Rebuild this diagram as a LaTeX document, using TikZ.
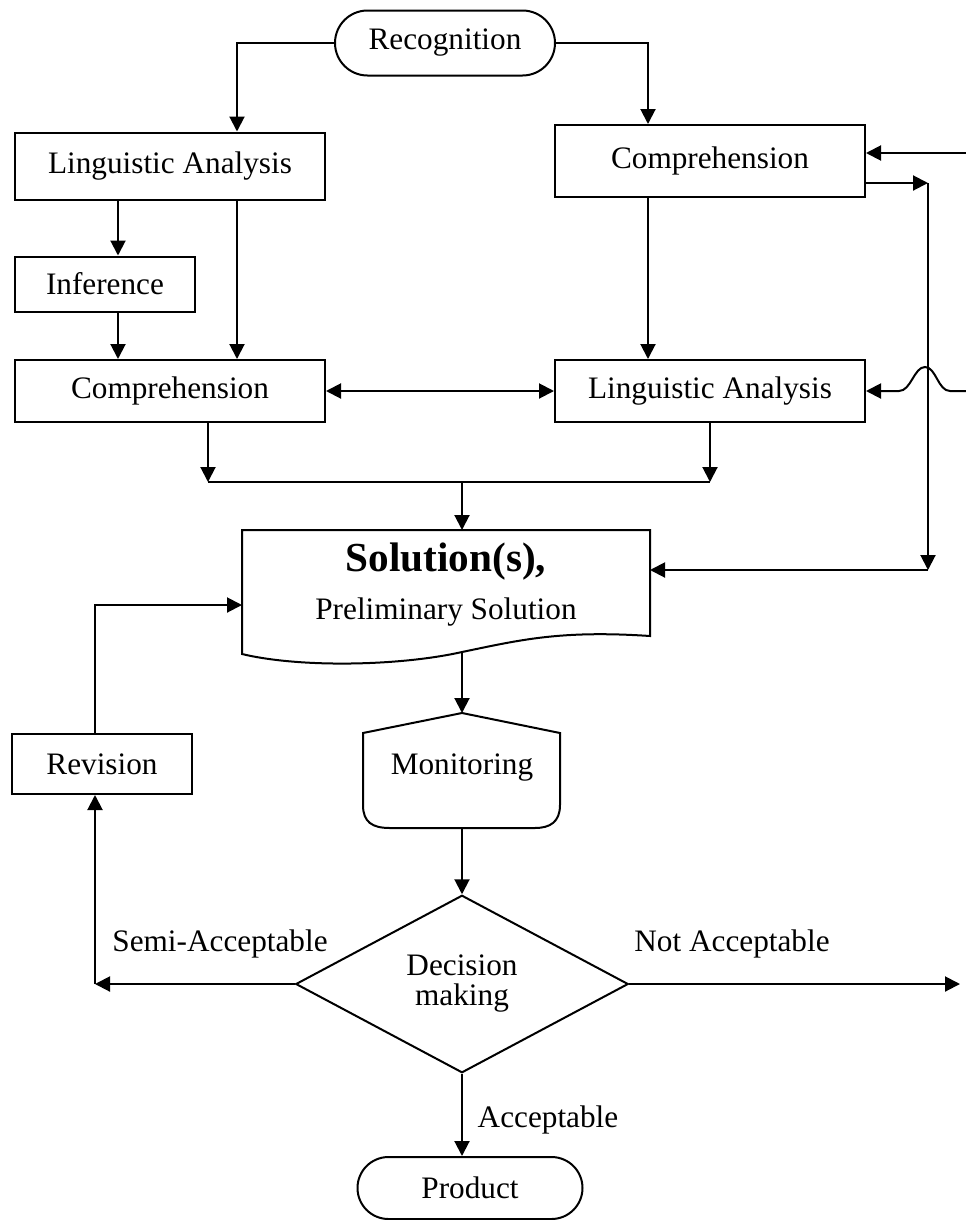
\documentclass[tikz,border=0pt]{standalone}
\usepackage{fontspec}
\setmainfont{Liberation Serif}
\usetikzlibrary{shapes.geometric,shapes.misc,arrows.meta}

\begin{document}
\begin{tikzpicture}[x=0.4pt,y=-0.4pt,line width=0.8pt,
    font=\fontsize{12.5}{15}\selectfont,
    box/.style={draw,rectangle,minimum width=124pt,inner sep=2pt},
    term/.style={draw,rounded rectangle,inner sep=2pt},
    decide/.style={draw,diamond,align=center,inner sep=0pt,minimum width=133pt,minimum height=71pt},
    arr/.style={-{Triangle[length=6pt,width=6pt]}},
    arrb/.style={{Triangle[length=6pt,width=6pt]}-{Triangle[length=6pt,width=6pt]}}]
  \useasboundingbox[fill=white] (0,0) rectangle (966,1220);
  % upper part
  \node[term,minimum width=92pt,minimum height=26pt](rec) at (445,43) {Recognition};
  \node[box,minimum height=26.8pt](la1) at (170,166) {Linguistic Analysis};
  \node[box,minimum height=28.8pt](cr) at (710,161) {Comprehension};
  \node[box,minimum width=72pt,minimum height=22pt](inf) at (105,284) {Inference};
  \node[box,minimum height=24.8pt](cl) at (170,391) {Comprehension};
  \node[box,minimum height=24.8pt](la2) at (710,391) {Linguistic Analysis};
  \draw[arr] (rec.west) -| (237,0 |- la1.north);
  \draw[arr] (rec.east) -| (648,0 |- cr.north);
  \draw[arr] (118,0 |- la1.south) -- (118,0 |- inf.north);
  \draw[arr] (237,0 |- la1.south) -- (237,0 |- cl.north);
  \draw[arr] (118,0 |- inf.south) -- (118,0 |- cl.north);
  \draw[arr] (648,0 |- cr.south) -- (648,0 |- la2.north);
  \draw[arrb] (cl) -- (la2);
  \coordinate (jl) at (208,482);
  \coordinate (jr) at (710,482);
  \coordinate (jm) at (462,482);
  \draw[arr] (jl |- cl.south) -- (jl);
  \draw[arr] (jr |- la2.south) -- (jr);
  \draw (jl) -- (jr);
  % solution
  \draw (242,530) -- (650,530) -- (650,636) .. controls (560,630) and (520,640) .. (462,652)
    .. controls (400,666) and (300,668) .. (242,654) -- cycle;
  \node(sol) at (446,562) {\fontsize{16.5}{19}\selectfont\bfseries Solution(s),};
  \node(pre) at (446,612) {Preliminary Solution};
  \coordinate (soltop) at (462,530);
  \coordinate (solbot) at (462,652);
  \coordinate (solleft) at (242,605);
  \coordinate (solright) at (650,570);
  \draw[arr] (jm) -- (soltop);
  % right side
  \coordinate (ein) at (966,153);
  \coordinate (ein2) at (966,391);
  \coordinate (rt) at (928,183);
  \coordinate (rb) at (928,570);
  \draw[arr] (ein) -- (cr.east |- ein);
  \draw[arr] (cr.east |- rt) -- (rt);
  \draw[arr] (rt) -- (rb);
  \draw[arr] (rb) -- (solright);
  \draw[arr] (ein2) -- (950,391) .. controls (938,391) and (936,367) .. (925,367)
    .. controls (914,367) and (911,391) .. (899,391) -- (la2.east);
  % monitoring
  \draw (363,733) -- (462,713) -- (560,733) -- (560,805) .. controls (560,822) and (550,828) .. (535,828)
    -- (390,828) .. controls (372,828) and (363,822) .. (363,805) -- cycle;
  \node(mon) at (462,768) {Monitoring};
  \coordinate (montop) at (462,713);
  \coordinate (monbot) at (462,828);
  \draw[arr] (solbot) -- (montop);
  % decision
  \node[decide](dec) at (462,984) {Decision\\[-3pt]making};
  \draw[arr] (monbot) -- (dec.north);
  \node[box,minimum width=72pt,minimum height=24pt](rev) at (102,764) {Revision};
  \coordinate (sl) at (95,984);
  \coordinate (nr) at (960,984);
  \draw[arr] (dec.west) -- (sl);
  \draw[arr] (sl) -- (sl |- rev.south);
  \draw[arr] (sl |- rev.north) |- (solleft);
  \draw[arr] (dec.east) -- (nr);
  \node(semi) at (220,944) {Semi-Acceptable};
  \node(notacc) at (732,944) {Not Acceptable};
  \node[term,minimum width=94pt,minimum height=24.8pt](prod) at (470,1188) {Product};
  \draw[arr] (dec.south) -- (dec.south |- prod.north);
  \node(acc) at (548,1120) {Acceptable};
\end{tikzpicture}
\end{document}
